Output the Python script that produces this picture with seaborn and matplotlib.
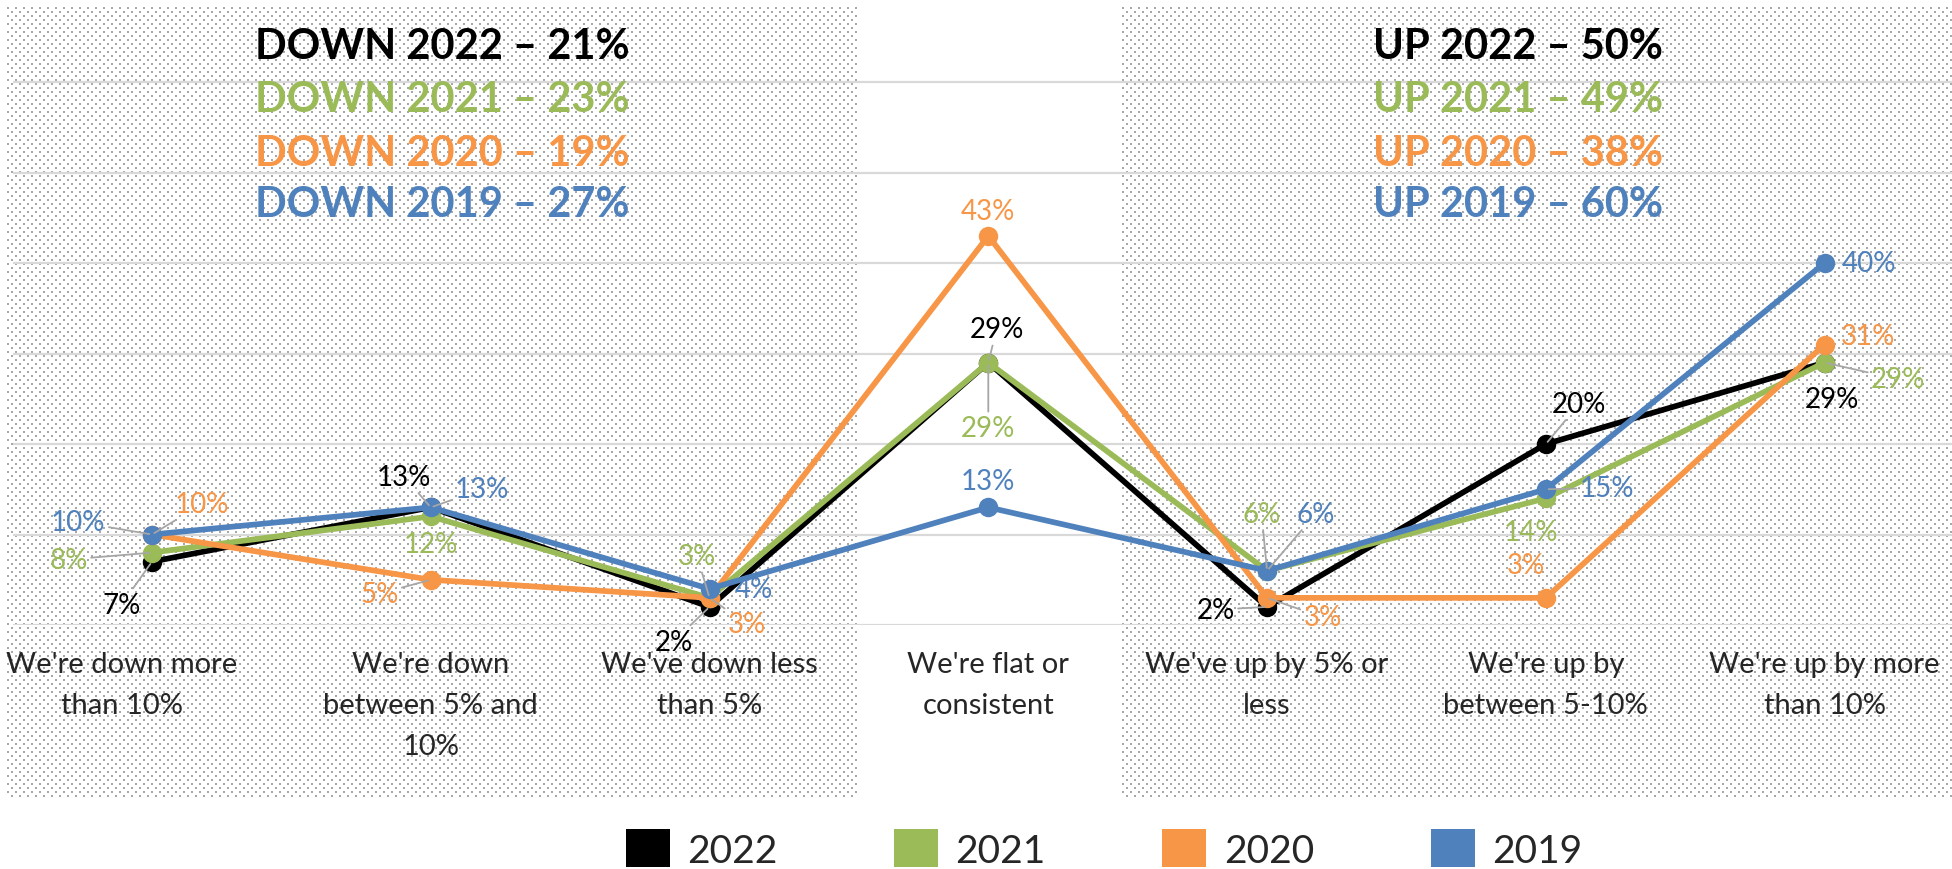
import matplotlib
matplotlib.use('Agg')
import matplotlib.pyplot as plt
import matplotlib.transforms as mtransforms
from matplotlib.patches import Patch
import numpy as np
import pandas as pd
import seaborn as sns

categories = ["We're down more\nthan 10%", "We're down\nbetween 5% and\n10%", "We've down less\nthan 5%",
              "We're flat or\nconsistent", "We've up by 5% or\nless", "We're up by\nbetween 5-10%",
              "We're up by more\nthan 10%"]
years = ['2022', '2021', '2020', '2019']
vals_2022 = [7, 13, 2, 29, 2, 20, 29]
vals_2021 = [8, 12, 3, 29, 6, 14, 29]
vals_2020 = [10, 5, 3, 43, 3, 3, 31]
vals_2019 = [10, 13, 4, 13, 6, 15, 40]
down_totals = [21, 23, 19, 27]
up_totals = [50, 49, 38, 60]
colors = ['#000000', '#9BBB59', '#F79646', '#4F81BD']

# label placement (points from marker) and whether a leader line is drawn
label_offsets = {
    '2022': [(-22, -31, 1), (-19, 22, 1), (-26, -25, 1), (6, 24, 1), (-37, -2, 1), (24, 29, 1), (5, -26, 0)],
    '2021': [(-60, -5, 1), (0, -20, 0), (-9, 30, 1), (0, -47, 1), (-4, 41, 1), (-11, -24, 0), (53, -12, 1)],
    '2020': [(36, 22, 1), (-37, -10, 1), (27, -19, 1), (0, 18, 0), (40, -14, 1), (-14, 24, 0), (31, 6, 0)],
    '2019': [(-53, 9, 1), (37, 13, 1), (32, 0, 0), (0, 19, 0), (35, 41, 1), (44, 1, 1), (32, 0, 0)],
}

series = dict(zip(years, [vals_2022, vals_2021, vals_2020, vals_2019]))
df = pd.DataFrame([{'pos': i, 'value': v, 'year': y}
                   for y in years for i, v in enumerate(series[y])])

sns.set_style('white')
plt.rcParams['font.family'] = ['Lato', 'DejaVu Sans']

W, H = 1952, 870
fig = plt.figure(figsize=(W / 100, H / 100), dpi=100)
ax = fig.add_axes([12.6 / W, (H - 626) / H, 1951.4 / W, 618 / H])
ax.patch.set_visible(False)

sns.lineplot(data=df, x='pos', y='value', hue='year', hue_order=years, palette=colors,
             marker='o', markersize=14, markeredgewidth=0, linewidth=4.1, sort=False,
             legend=False, ax=ax, zorder=3)

for y, c in zip(years, colors):
    for i, v in enumerate(series[y]):
        dx, dy, leader = label_offsets[y][i]
        arrow = dict(arrowstyle='-', color='#a6a6a6', lw=1.3, shrinkA=0, shrinkB=2) if leader else None
        ax.annotate(f'{v}%', xy=(i, v), xytext=(dx, dy), textcoords='offset points',
                    ha='center', va='center', color=c, fontsize=20, zorder=5,
                    arrowprops=arrow)

ax.set_xlim(-0.5, 6.5)
ax.set_ylim(0, 68.3)
ax.set_yticks(range(0, 61, 10))
ax.set_yticklabels([])
ax.yaxis.grid(True, color='#d9d9d9', lw=1.6)
ax.set_axisbelow(True)
ax.set_xticks(range(len(categories)))
ax.set_xticklabels(categories, fontsize=21, linespacing=1.7)
ax.tick_params(axis='x', length=0, pad=19)
ax.tick_params(axis='y', length=0)
ax.set_xlabel('')
ax.set_ylabel('')
for s in ax.spines.values():
    s.set_visible(False)
# first label is pushed in from the left edge
first = ax.get_xticklabels()[0]
first.set_transform(first.get_transform() + mtransforms.ScaledTranslation(-0.30, 0, fig.dpi_scale_trans))

# dotted background blocks behind the "down" and "up" groups
def dot_pattern(h, w):
    img = np.ones((h, w, 3))
    yy, xx = np.mgrid[0:h, 0:w]
    dots = ((yy % 4) < 2) & (((xx + 4 * ((yy // 4) % 2)) % 8) < 2)
    img[dots] = 0.66
    return img

down_idx = [0, 1, 2]
up_idx = [4, 5, 6]
y_top = int(round(ax.transAxes.transform((0, 1))[1]))
y_bot = int(round(ax.transAxes.transform((0, -0.2816))[1]))
for idx in (down_idx, up_idx):
    x0 = max(int(round(ax.transData.transform((min(idx) - 0.52, 0))[0])), 7)
    x1 = min(int(round(ax.transData.transform((max(idx) + 0.53, 0))[0])), W)
    fig.figimage(dot_pattern(y_top - y_bot, x1 - x0), xo=x0, yo=y_bot, zorder=-1)

line_y = [47, 100, 154, 205]
for k, (y, c) in enumerate(zip(years, colors)):
    fig.text(442 / W, 1 - line_y[k] / H, f'DOWN {y} \u2013 {down_totals[k]}%', color=c,
             fontsize=30, fontweight='bold', ha='center', va='center')
    fig.text(1518 / W, 1 - line_y[k] / H, f'UP {y} \u2013 {up_totals[k]}%', color=c,
             fontsize=30, fontweight='bold', ha='center', va='center')

handles = [Patch(facecolor=c, edgecolor='none', label=y) for y, c in zip(years, colors)]
fig.legend(handles=handles, loc='center', bbox_to_anchor=(1104 / W, 1 - 850 / H), ncol=4,
           frameon=False, fontsize=28, handlelength=1.13, handleheight=1.13,
           handletextpad=0.45, columnspacing=3.0)

fig.savefig('out.png', dpi=100)
